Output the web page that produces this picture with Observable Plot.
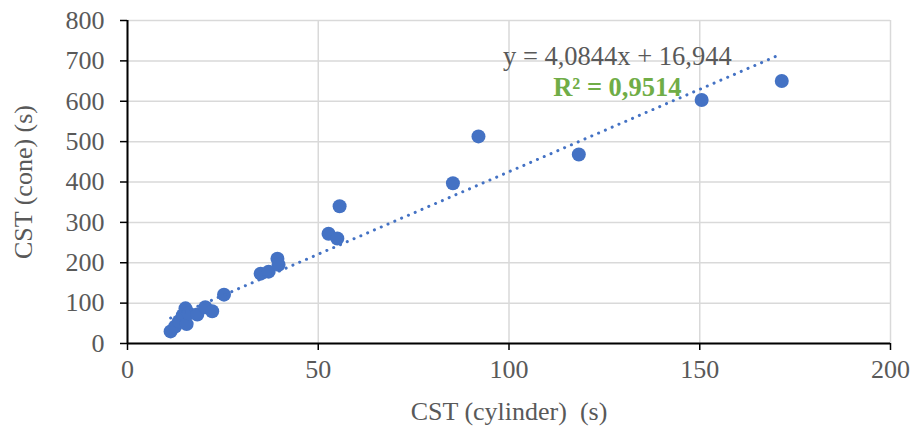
<!DOCTYPE html>
<html>
<head>
<meta charset="utf-8">
<script src="https://cdn.jsdelivr.net/npm/d3@7"></script>
<script src="https://cdn.jsdelivr.net/npm/@observablehq/plot@0.6"></script>
<style>
  html, body { margin: 0; padding: 0; background: #fff; }
  #chart svg { display: block; }
</style>
</head>
<body>
<div id="chart"></div>
<script>
// Data
const cylinder = [11.3, 12.5, 13.5, 14.5, 15.2, 15.5, 16.0, 18.3, 20.4, 22.2, 25.3, 34.9, 37.0, 39.3, 39.6, 52.7, 55.0, 55.6, 85.3, 92.0, 118.3, 150.5, 171.5];
const cone     = [30,   42,   55,   70,   87,   48,   75,   72,   90,   80,   121,  173,  178,  210,  195,  272,  260,  340,  397,  513,  468,   603,   650];

const xTicks = [0, 50, 100, 150, 200];
const yTicks = [0, 100, 200, 300, 400, 500, 600, 700, 800];

const slope = 4.0844;
const intercept = 16.944;
const equationLabel = "y = 4,0844x + 16,944";
const r2Label = "R² = 0,9514";
const eqPos = [128.4, 712];
const r2Pos = [128.4, 634];

const points = cylinder.map((x, i) => ({x, y: cone[i]}));
const xMin = d3.min(cylinder), xMax = d3.max(cylinder);
const trend = [xMin, xMax].map(x => ({x, y: slope * x + intercept}));

const font = "'Liberation Serif', 'Times New Roman', serif";
const gray = "#595959";

const chart = Plot.plot({
  width: 911,
  height: 428,
  marginLeft: 127,
  marginRight: 21,
  marginTop: 20,
  marginBottom: 85,
  style: {fontFamily: font, fontSize: "26px", color: gray, background: "#fff", overflow: "visible"},
  x: {domain: [0, 200], ticks: xTicks},
  y: {domain: [0, 800], ticks: yTicks},
  marks: [
    Plot.gridX(xTicks, {stroke: "#d9d9d9", strokeOpacity: 1, strokeWidth: 1.5}),
    Plot.gridY(yTicks, {stroke: "#d9d9d9", strokeOpacity: 1, strokeWidth: 1.5}),
    Plot.axisX(xTicks, {tickSize: 7, tickPadding: 9, stroke: "#000", strokeWidth: 1.5, fill: gray, fontSize: 26,
      label: "CST (cylinder)\u00a0 (s)", labelAnchor: "center", labelArrow: "none", labelOffset: 76}),
    Plot.axisY(yTicks, {tickSize: 7, tickPadding: 16, stroke: "#000", strokeWidth: 1.5, fill: gray, fontSize: 26,
      label: "CST (cone) (s)", labelAnchor: "center", labelArrow: "none", labelOffset: 114}),
    Plot.ruleX([0], {stroke: "#000", strokeWidth: 2}),
    Plot.ruleY([0], {stroke: "#000", strokeWidth: 2}),
    Plot.dot(points, {x: "x", y: "y", r: 7, fill: "#4472C4", stroke: "none"}),
    Plot.line(trend, {x: "x", y: "y", stroke: "#4472C4", strokeWidth: 3, strokeDasharray: "0.1 7.3", strokeLinecap: "round"}),
    Plot.text([equationLabel], {x: () => eqPos[0], y: () => eqPos[1], text: d => d, fill: gray, fontSize: 26.5, fontFamily: font}),
    Plot.text([r2Label], {x: () => r2Pos[0], y: () => r2Pos[1], text: d => d, fill: "#70AD47", fontSize: 26.5, fontWeight: "bold", fontFamily: font})
  ]
});
document.getElementById("chart").appendChild(chart);
</script>
</body>
</html>
